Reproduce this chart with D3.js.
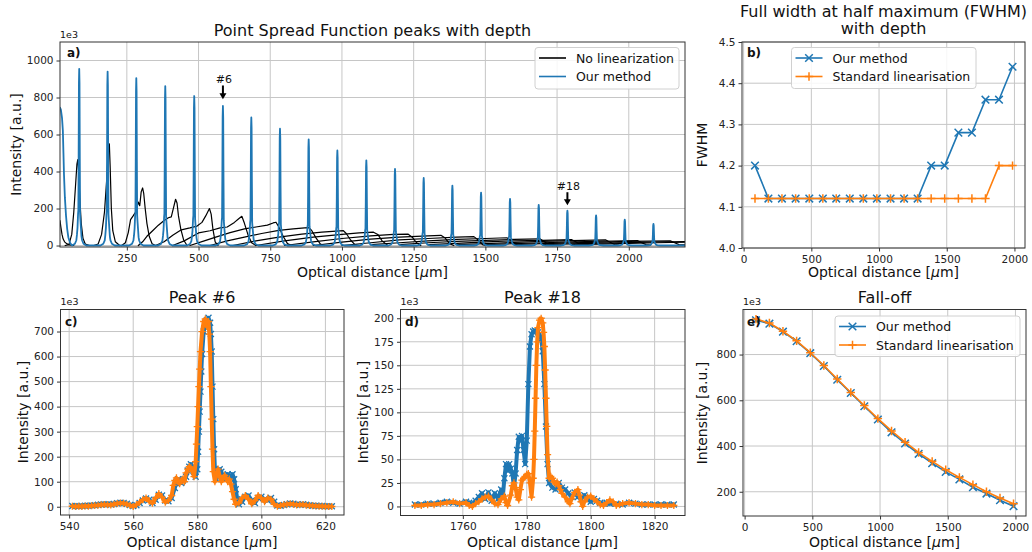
<!DOCTYPE html>
<html>
<head>
<meta charset="utf-8">
<script src="https://cdn.jsdelivr.net/npm/d3@7"></script>
<style>
  body { margin: 0; background: #fff; }
  svg { font-family: "DejaVu Sans", sans-serif; }
</style>
</head>
<body>
<svg id="fig" width="1032" height="552"></svg>
<script>
// ---------- data ----------
// peak centres / heights of "Our method" in panel a (um, counts/1e3)
const peakPos = [84, 183, 283, 384, 485, 585, 684, 784, 884, 984, 1085, 1185, 1285, 1385, 1485, 1586, 1686, 1786, 1886, 1986, 2086];
const peakHeight = [955, 940, 905, 862, 808, 754, 692, 631, 574, 514, 460, 414, 365, 324, 286, 252, 220, 189, 163, 140, 117];
// shape of one peak, [offset um, fraction of height]
const peakProfile = [[-25, 0], [-15, 0.01], [-10, 0.03], [-8, 0.06], [-6, 0.1], [-4, 0.18], [-3, 0.2], [-2, 0.5], [-1, 0.92], [0, 1],
  [1, 0.92], [2, 0.5], [3, 0.18], [4, 0.15], [6, 0.1], [8, 0.05], [10, 0.03], [15, 0.01], [25, 0]];
// falling edge of the peak cut by the left border, and the flat tail
const blueEdge = [[17, 745], [20, 735], [24, 690], [27, 620], [29, 500], [31, 380], [34, 260], [38, 160], [42, 90], [46, 45], [52, 15], [59, 0]];
const blueTail = [[2150, 0], [2196, 0]];

// "No linearization" traces, one per depth
const blackTraces = [
  [[17, 135], [20, 100], [24, 60], [28, 35], [33, 20], [40, 10], [50, 3], [65, 0]],
  [[35, 0], [48, 5], [58, 60], [65, 180], [71, 320], [76, 440], [79, 464], [82, 400], [86, 260], [91, 120], [97, 40], [105, 8], [120, 0]],
  [[135, 0], [150, 8], [162, 60], [172, 180], [180, 360], [185, 500], [189, 550], [192, 420], [196, 200], [201, 80], [210, 20], [225, 0]],
  [[232, 0], [245, 15], [255, 70], [263, 140], [272, 160], [280, 180], [286, 210], [290, 235], [295, 215], [300, 290], [305, 311], [309, 280], [314, 200], [320, 120], [328, 50], [338, 10], [350, 0]],
  [[290, 0], [305, 20], [320, 50], [340, 80], [360, 110], [380, 135], [395, 150], [405, 155], [412, 200], [420, 250], [425, 230], [430, 160], [438, 90], [448, 30], [460, 0]],
  [[350, 0], [380, 20], [410, 55], [440, 85], [470, 95], [495, 105], [512, 125], [525, 160], [538, 200], [544, 170], [550, 90], [558, 20], [568, 0]],
  [[410, 0], [450, 25], [500, 68], [540, 80], [575, 95], [600, 100], [625, 125], [640, 145], [651, 158], [660, 120], [672, 60], [685, 15], [700, 0]],
  [[470, 0], [520, 25], [560, 45], [610, 70], [660, 90], [700, 100], [740, 110], [760, 122], [770, 126], [780, 100], [795, 50], [810, 10], [825, 0]],
  [[540, 0], [600, 25], [660, 45], [720, 65], [780, 82], [830, 90], [870, 95], [885, 97], [895, 80], [910, 40], [925, 8], [940, 0]],
  [[620, 0], [700, 25], [780, 45], [860, 62], [930, 72], [980, 78], [1005, 80], [1015, 65], [1030, 30], [1045, 5], [1060, 0]],
  [[700, 0], [800, 25], [900, 45], [1000, 60], [1060, 68], [1110, 72], [1125, 60], [1140, 25], [1160, 0]],
  [[800, 0], [900, 20], [1000, 38], [1100, 52], [1180, 60], [1230, 62], [1245, 45], [1260, 15], [1275, 0]],
  [[900, 0], [1000, 18], [1100, 35], [1200, 45], [1300, 52], [1345, 55], [1360, 40], [1375, 10], [1390, 0]],
  [[1000, 0], [1100, 15], [1200, 30], [1300, 38], [1400, 45], [1460, 48], [1475, 30], [1490, 5], [1500, 0]],
  [[1100, 5], [1200, 15], [1300, 25], [1400, 33], [1500, 38], [1575, 42], [1590, 25], [1605, 5], [1620, 0]],
  [[1200, 5], [1300, 15], [1400, 22], [1500, 28], [1600, 33], [1690, 36], [1705, 22], [1720, 5], [1735, 0]],
  [[1300, 5], [1400, 12], [1500, 20], [1600, 25], [1700, 28], [1800, 32], [1815, 20], [1830, 5], [1845, 2]],
  [[1400, 5], [1500, 10], [1600, 17], [1700, 22], [1800, 26], [1920, 30], [1935, 18], [1950, 5], [1965, 2]],
  [[1500, 5], [1600, 10], [1700, 15], [1800, 20], [1900, 23], [2030, 27], [2045, 15], [2060, 5], [2075, 2]],
  [[1600, 5], [1700, 10], [1800, 14], [1900, 18], [2000, 22], [2145, 25], [2160, 15], [2175, 5], [2196, 3]],
  [[1700, 5], [1800, 9], [1900, 13], [2000, 16], [2100, 19], [2196, 21]],
  [[1800, 5], [1900, 8], [2000, 12], [2100, 15], [2196, 18]]
];

const annoLabels = ["#6", "#18"];
const annoX = [585, 1786];
const annoTip = [790, 218];
const annoTail = [865, 288];
const annoText = [880, 300];

// panel b / e : one value per peak (first 20 peaks)
const depthX = peakPos.slice(0, 20);
const fwhmOurs = [4.20, 4.12, 4.12, 4.12, 4.12, 4.12, 4.12, 4.12, 4.12, 4.12, 4.12, 4.12, 4.12, 4.20, 4.20, 4.28, 4.28, 4.36, 4.36, 4.44];
const fwhmStd = [4.12, 4.12, 4.12, 4.12, 4.12, 4.12, 4.12, 4.12, 4.12, 4.12, 4.12, 4.12, 4.12, 4.12, 4.12, 4.12, 4.12, 4.12, 4.20, 4.20];
const falloffOurs = [950, 935, 900, 858, 806, 750, 690, 632, 574, 516, 460, 411, 366, 325, 287, 254, 220, 192, 163, 137];
const falloffStd = [955, 938, 902, 860, 808, 752, 693, 634, 577, 520, 466, 417, 372, 333, 296, 263, 231, 200, 173, 148];

// panel c : peak #6
const peak6Ours = [[541, 3], [542, 3], [543, 2], [544, 3], [545, 4], [546, 4], [547, 5], [548, 6], [549, 8], [550, 9], [551, 10], [552, 10], [553, 9], [554, 11], [555, 14], [556, 16], [557, 15], [558, 12], [559, 7], [560, 3],
  [561, 6], [562, 15], [563, 25], [564, 33], [565, 28], [566, 15], [567, 28], [568, 48], [569, 45], [570, 25], [571, 22], [572, 35], [573, 75], [573.5, 100], [574, 110], [574.5, 100], [575, 95], [575.5, 105], [576, 110], [576.5, 120],
  [577, 145], [577.5, 160], [578, 170], [578.5, 160], [579, 140], [579.5, 120], [580, 150], [580.25, 220], [580.5, 300], [580.75, 380], [581, 460], [581.25, 540], [581.5, 610], [582, 700], [582.5, 735], [583, 745], [583.5, 755], [584, 735], [584.25, 690], [584.5, 620],
  [584.75, 480], [585, 350], [585.25, 230], [585.5, 150], [586, 110], [586.5, 130], [587, 150], [587.5, 140], [588, 120], [588.5, 110], [589, 120], [589.5, 130], [590, 125], [590.5, 115], [591, 130], [591.5, 110], [592, 70], [592.5, 30], [593, 10], [594, 20],
  [595, 40], [596, 45], [597, 25], [598, 15], [599, 35], [600, 40], [601, 30], [602, 25], [603, 35], [604, 20], [605, 5], [606, 4], [607, 7], [608, 10], [609, 13], [610, 12], [611, 9], [612, 8], [613, 10], [614, 8],
  [615, 6], [616, 4], [617, 4], [618, 3], [619, 3], [620, 2], [621, 2], [622, 2]];
const peak6Std = [[541, 2], [542, 1], [543, 2], [544, 1], [545, 3], [546, 2], [547, 4], [548, 5], [549, 6], [550, 8], [551, 9], [552, 8], [553, 7], [554, 10], [555, 13], [556, 15], [557, 14], [558, 10], [559, 5], [560, 1],
  [561, 8], [562, 18], [563, 28], [564, 35], [565, 22], [566, 14], [567, 35], [568, 52], [569, 38], [570, 18], [571, 25], [572, 45], [572.5, 85], [573, 105], [573.5, 115], [574, 100], [574.5, 92], [575, 105], [575.5, 110], [576, 100],
  [576.5, 135], [577, 150], [577.5, 160], [578, 155], [578.5, 140], [579, 120], [579.5, 180], [579.75, 250], [580, 320], [580.25, 400], [580.5, 480], [580.75, 550], [581, 620], [581.5, 700], [582, 740], [582.5, 750], [583, 720], [583.5, 740], [583.75, 690], [584, 620],
  [584.25, 480], [584.5, 350], [584.75, 230], [585, 140], [585.5, 100], [586, 130], [586.5, 150], [587, 120], [587.5, 100], [588, 110], [588.5, 125], [589, 115], [589.5, 100], [590, 110], [590.5, 90], [591, 60], [591.5, 30], [592, 10], [593, 15], [594, 35],
  [595, 45], [596, 30], [597, 12], [598, 25], [599, 45], [600, 35], [601, 20], [602, 35], [603, 30], [604, 10], [605, 2], [606, 5], [607, 8], [608, 10], [609, 12], [610, 10], [611, 7], [612, 8], [613, 9], [614, 6],
  [615, 5], [616, 4], [617, 3], [618, 2], [619, 2], [620, 1], [621, 1], [622, 1]];

// panel d : peak #18
const peak18Ours = [[1745, 2], [1747, 2], [1749, 3], [1751, 3], [1753, 4], [1755, 5], [1757, 4], [1759, 3], [1761, 5], [1762, 4], [1763, 3], [1764, 6], [1765, 10], [1766, 14], [1767, 8], [1768, 15], [1769, 6], [1770, 14], [1771, 8], [1772, 18],
  [1772.5, 10], [1773, 30], [1773.5, 45], [1774, 38], [1774.5, 45], [1775, 40], [1775.5, 35], [1776, 20], [1776.5, 35], [1777, 60], [1777.5, 74], [1778, 70], [1778.5, 75], [1779, 60], [1779.5, 45], [1780, 70], [1780.5, 130], [1781, 170], [1781.5, 183], [1782, 186],
  [1782.5, 187], [1783, 186], [1783.5, 185], [1784, 183], [1784.5, 178], [1785, 165], [1785.5, 130], [1786, 85], [1786.5, 45], [1787, 25], [1788, 20], [1789, 18], [1790, 25], [1791, 20], [1792, 18], [1793, 14], [1794, 10], [1795, 15], [1796, 10], [1797, 8],
  [1798, 12], [1799, 8], [1800, 5], [1801, 8], [1802, 6], [1803, 4], [1804, 3], [1805, 4], [1806, 3], [1808, 3], [1810, 2], [1812, 4], [1814, 3], [1816, 2], [1818, 2], [1820, 2], [1822, 2], [1824, 2], [1826, 2]];
const peak18Std = [[1745, 1], [1747, 1], [1749, 2], [1751, 2], [1753, 3], [1755, 4], [1757, 5], [1759, 3], [1761, 4], [1762, 1], [1763, 0], [1764, 3], [1765, 5], [1766, 8], [1767, 10], [1768, 11], [1769, 7], [1770, 3], [1771, 2], [1772, 8],
  [1773, 11], [1773.5, 4], [1774, 1], [1775, 12], [1775.5, 22], [1776, 25], [1776.5, 20], [1777, 10], [1777.5, 7], [1778, 18], [1778.5, 28], [1779, 30], [1779.5, 32], [1780, 34], [1780.5, 35], [1781, 25], [1781.5, 10], [1782, 30], [1782.25, 50], [1782.5, 80],
  [1782.75, 115], [1783, 150], [1783.25, 175], [1783.5, 190], [1784, 198], [1784.5, 200], [1785, 195], [1785.25, 185], [1785.5, 170], [1785.75, 145], [1786, 115], [1786.25, 85], [1786.5, 55], [1787, 30], [1787.5, 32], [1788, 30], [1788.5, 26], [1789, 24], [1789.5, 26], [1790, 22],
  [1790.5, 18], [1791, 14], [1792, 10], [1793, 5], [1793.5, 3], [1794, 8], [1795, 15], [1796, 18], [1796.5, 12], [1797, 5], [1797.5, 0], [1798, 5], [1799, 10], [1800, 11], [1801, 8], [1802, 5], [1803, 2], [1804, 1], [1805, 4], [1806, 7],
  [1807, 5], [1808, 1], [1809, 2], [1810, 3], [1812, 4], [1814, 3], [1816, 2], [1818, 2], [1820, 1], [1822, 1], [1824, 1], [1826, 1]];

const ticksA = { x: [250, 500, 750, 1000, 1250, 1500, 1750, 2000], y: [0, 200, 400, 600, 800, 1000] };
const ticksB = { x: [0, 500, 1000, 1500, 2000], y: [4.0, 4.1, 4.2, 4.3, 4.4, 4.5] };
const ticksC = { x: [540, 560, 580, 600, 620], y: [0, 100, 200, 300, 400, 500, 600, 700] };
const ticksD = { x: [1760, 1780, 1800, 1820], y: [0, 25, 50, 75, 100, 125, 150, 175, 200] };
const ticksE = { x: [0, 500, 1000, 1500, 2000], y: [200, 400, 600, 800] };

// ---------- drawing ----------
const svg = d3.select("#fig");
const BLUE = "#1f77b4", ORANGE = "#ff7f0e";
const FONT = "DejaVu Sans";
let clipN = 0;

function makePanel(box, xDom, yDom, ticks, yFmt) {
  const x = d3.scaleLinear().domain(xDom).range([box.l, box.r]);
  const y = d3.scaleLinear().domain(yDom).range([box.b, box.t]);
  const g = svg.append("g");
  const grid = g.append("g").attr("stroke", "#c6c6c6").attr("stroke-width", 1);
  grid.selectAll(".gx").data(ticks.x).join("line")
    .attr("x1", d => x(d)).attr("x2", d => x(d)).attr("y1", box.t).attr("y2", box.b);
  grid.selectAll(".gy").data(ticks.y).join("line")
    .attr("y1", d => y(d)).attr("y2", d => y(d)).attr("x1", box.l).attr("x2", box.r);

  const id = "clip" + (clipN++);
  svg.append("clipPath").attr("id", id).append("rect")
    .attr("x", box.l).attr("y", box.t).attr("width", box.r - box.l).attr("height", box.b - box.t);
  const plot = g.append("g").attr("clip-path", `url(#${id})`);
  const top = g.append("g");

  top.append("rect").attr("x", box.l).attr("y", box.t)
    .attr("width", box.r - box.l).attr("height", box.b - box.t)
    .attr("fill", "none").attr("stroke", "#333").attr("stroke-width", 1);

  const ax = top.append("g").attr("transform", `translate(0,${box.b})`)
    .call(d3.axisBottom(x).tickValues(ticks.x).tickSize(3.5).tickPadding(4).tickSizeOuter(0).tickFormat(d3.format("d")));
  const ay = top.append("g").attr("transform", `translate(${box.l},0)`)
    .call(d3.axisLeft(y).tickValues(ticks.y).tickSize(3.5).tickPadding(3).tickSizeOuter(0).tickFormat(yFmt || d3.format("d")));
  [ax, ay].forEach(a => {
    a.attr("font-family", FONT).attr("font-size", 10.5);
    a.select(".domain").remove();
    a.selectAll("line").attr("stroke", "#333");
    a.selectAll("text").attr("fill", "#222");
  });
  return { x, y, plot, top, box };
}

function text(str, x, y, size, opts = {}) {
  const t = svg.append("text").attr("x", x).attr("y", y)
    .attr("font-size", size).attr("fill", "#111")
    .attr("text-anchor", opts.anchor || "start")
    .attr("font-weight", opts.bold ? "bold" : null);
  if (opts.rotate) t.attr("transform", `rotate(-90,${x},${y})`);
  t.text(str);
  return t;
}

function xLabel(cx, y) {
  const t = svg.append("text").attr("x", cx).attr("y", y).attr("font-size", 14)
    .attr("text-anchor", "middle").attr("fill", "#111");
  t.append("tspan").text("Optical distance [");
  t.append("tspan").attr("font-style", "italic").text("\u03bc");
  t.append("tspan").text("m]");
}

const markX = s => `M${-s},${-s}L${s},${s}M${-s},${s}L${s},${-s}`;
const markPlus = s => `M${-s},0L${s},0M0,${-s}L0,${s}`;

function series(p, pts, color, marker, size, lw, mlw) {
  const line = d3.line().x(d => p.x(d[0])).y(d => p.y(d[1]));
  p.plot.append("path").datum(pts).attr("d", line)
    .attr("fill", "none").attr("stroke", color).attr("stroke-width", lw)
    .attr("stroke-linejoin", "round").attr("stroke-linecap", "round");
  if (marker) {
    p.plot.append("g").selectAll("path").data(pts).join("path")
      .attr("transform", d => `translate(${p.x(d[0])},${p.y(d[1])})`)
      .attr("d", marker(size)).attr("fill", "none").attr("stroke", color).attr("stroke-width", mlw);
  }
}

function legend(bx, by, w, h, items) {
  svg.append("rect").attr("x", bx).attr("y", by).attr("width", w).attr("height", h)
    .attr("rx", 3).attr("fill", "#fff").attr("fill-opacity", 0.85)
    .attr("stroke", "#d0d0d0").attr("stroke-width", 1);
  items.forEach((it, i) => {
    const cy = by + 10.5 + i * 18.5;
    svg.append("line").attr("x1", bx + 4).attr("x2", bx + 31).attr("y1", cy).attr("y2", cy)
      .attr("stroke", it.color).attr("stroke-width", it.lw || 1.6);
    if (it.marker) {
      svg.append("path").attr("transform", `translate(${bx + 17.5},${cy})`)
        .attr("d", it.marker(it.size)).attr("fill", "none").attr("stroke", it.color).attr("stroke-width", 1.5);
    }
    text(it.label, bx + 41, cy + 4.5, 12.5);
  });
}

// ---- panel a ----
const pA = makePanel({ l: 60, r: 685, t: 42, b: 247 }, [17, 2196], [-8, 1100], ticksA);
blackTraces.forEach(tr => series(pA, tr, "#000", null, 0, 1.2));
const blueTrace = blueEdge.slice();
peakPos.forEach((p, i) => peakProfile.forEach(([dx, f]) => blueTrace.push([p + dx, f * peakHeight[i]])));
blueTrace.push(...blueTail);
series(pA, blueTrace, BLUE, null, 0, 1.8);

annoLabels.forEach((lab, i) => {
  const ax = pA.x(annoX[i]);
  const yTip = pA.y(annoTip[i]), yTail = pA.y(annoTail[i]);
  svg.append("line").attr("x1", ax).attr("x2", ax).attr("y1", yTail).attr("y2", yTip - 5)
    .attr("stroke", "#000").attr("stroke-width", 2);
  svg.append("path").attr("d", `M${ax - 3.5},${yTip - 6}L${ax + 3.5},${yTip - 6}L${ax},${yTip}Z`).attr("fill", "#000");
  text(lab, ax + 1, pA.y(annoText[i]), 11, { anchor: "middle" });
});

text("Point Spread Function peaks with depth", 372.5, 36, 16, { anchor: "middle" });
text("1e3", 60, 38, 9.5);
text("a)", 67, 56.5, 12, { bold: true });
text("Intensity [a.u.]", 21, 144.5, 14, { anchor: "middle", rotate: true });
xLabel(372.5, 277);
legend(535, 47.5, 144, 41.5, [
  { label: "No linearization", color: "#000" },
  { label: "Our method", color: BLUE }
]);

// ---- panel b ----
const pB = makePanel({ l: 742, r: 1025, t: 42, b: 248 }, [-12, 2078], [4.0, 4.5], ticksB, d3.format(".1f"));
series(pB, depthX.map((d, i) => [d, fwhmOurs[i]]), BLUE, markX, 3.8, 1.6, 1.5);
series(pB, depthX.map((d, i) => [d, fwhmStd[i]]), ORANGE, markPlus, 4.2, 1.6, 1.5);
text("Full width at half maximum (FWHM)", 883.5, 16.5, 16, { anchor: "middle" });
text("with depth", 883.5, 34, 16, { anchor: "middle" });
text("b)", 747, 56.5, 12, { bold: true });
text("FWHM", 707, 145, 14, { anchor: "middle", rotate: true });
xLabel(883.5, 277);
legend(791.5, 47.5, 184.5, 41, [
  { label: "Our method", color: BLUE, marker: markX, size: 3.8 },
  { label: "Standard linearisation", color: ORANGE, marker: markPlus, size: 4.2 }
]);

// ---- panel c ----
const pC = makePanel({ l: 60.5, r: 344, t: 309.5, b: 515 }, [537.3, 625.8], [-33, 788], ticksC);
series(pC, peak6Ours, BLUE, markX, 3, 4, 1.3);
series(pC, peak6Std, ORANGE, markPlus, 3.6, 4, 1.3);
text("Peak #6", 202, 303, 16, { anchor: "middle" });
text("1e3", 60.5, 305, 9.5);
text("c)", 65, 325.5, 12, { bold: true });
text("Intensity [a.u.]", 28, 412, 14, { anchor: "middle", rotate: true });
xLabel(202, 547);

// ---- panel d ----
const pD = makePanel({ l: 400.5, r: 685, t: 309.5, b: 515.5 }, [1740.5, 1829.5], [-9.6, 209.3], ticksD);
series(pD, peak18Ours, BLUE, markX, 3, 4, 1.3);
series(pD, peak18Std, ORANGE, markPlus, 3.6, 4, 1.3);
text("Peak #18", 542.5, 303, 16, { anchor: "middle" });
text("1e3", 400.5, 305, 9.5);
text("d)", 405, 325.5, 12, { bold: true });
text("Intensity [a.u.]", 368, 412, 14, { anchor: "middle", rotate: true });
xLabel(542.5, 547);

// ---- panel e ----
const pE = makePanel({ l: 743, r: 1026, t: 309.5, b: 516 }, [-12, 2078], [94, 997], ticksE);
series(pE, depthX.map((d, i) => [d, falloffOurs[i]]), BLUE, markX, 3.8, 1.6, 1.5);
series(pE, depthX.map((d, i) => [d, falloffStd[i]]), ORANGE, markPlus, 4.2, 1.6, 1.5);
text("Fall-off", 884.5, 303, 16, { anchor: "middle" });
text("1e3", 743, 305, 9.5);
text("e)", 747, 325.5, 12, { bold: true });
text("Intensity [a.u.]", 707, 413, 14, { anchor: "middle", rotate: true });
xLabel(884.5, 547);
legend(835, 316, 185, 40.5, [
  { label: "Our method", color: BLUE, marker: markX, size: 3.8 },
  { label: "Standard linearisation", color: ORANGE, marker: markPlus, size: 4.2 }
]);
</script>
</body>
</html>
